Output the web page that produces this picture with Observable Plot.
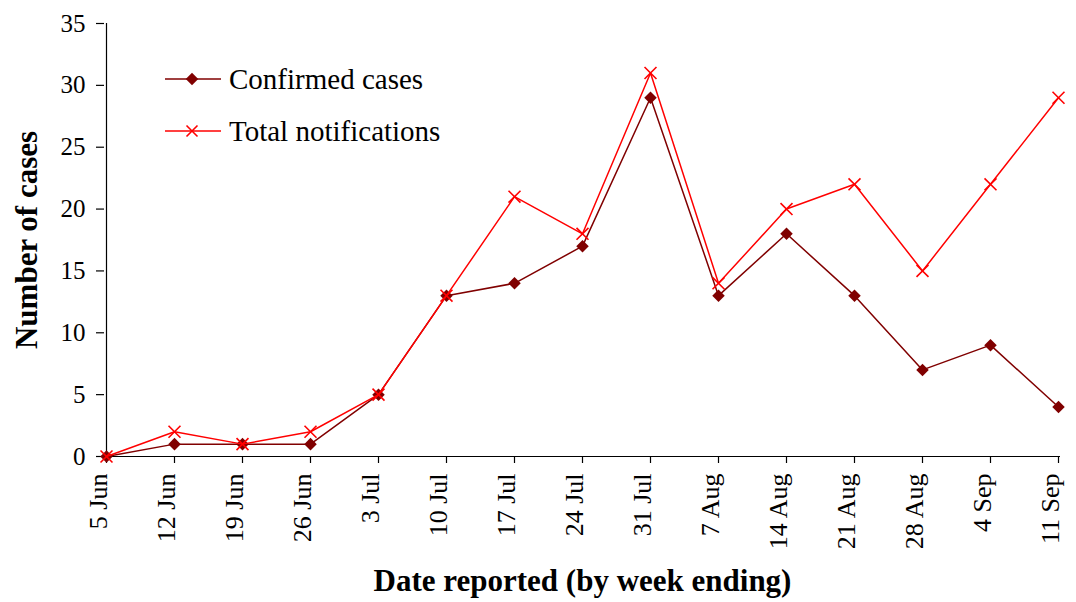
<!DOCTYPE html>
<html><head><meta charset="utf-8">
<script src="https://cdn.jsdelivr.net/npm/d3@7"></script>
<script src="https://cdn.jsdelivr.net/npm/@observablehq/plot@0.6"></script>
<style>
body{margin:0;background:#fff}
#wrap{position:relative;width:1076px;height:602px;overflow:hidden}
.leg{position:absolute;left:165px;height:34px;display:flex;align-items:center;font-family:"Liberation Serif","Times New Roman",serif;font-size:29px;color:#000;white-space:nowrap}
.leg svg{margin-right:8px}
</style>
</head><body><div id="wrap"></div>
<script>
const weeks = ["5 Jun","12 Jun","19 Jun","26 Jun","3 Jul","10 Jul","17 Jul","24 Jul","31 Jul","7 Aug","14 Aug","21 Aug","28 Aug","4 Sep","11 Sep"];
const confirmed = [0,1,1,1,5,13,14,17,29,13,18,13,7,9,4];
const totalNotifications = [0,2,1,2,5,13,21,18,31,14,20,22,15,22,29];
const yTicks = [0,5,10,15,20,25,30,35];
const seriesNames = ["Confirmed cases","Total notifications"];
const seriesColors = ["#800000","#ff0000"];
const xTitle = "Date reported (by week ending)";
const yTitle = "Number of cases";

const conf = weeks.map((w,i)=>({week:w,value:confirmed[i]}));
const tot = weeks.map((w,i)=>({week:w,value:totalNotifications[i]}));
const font = "'Liberation Serif','Times New Roman',serif";

const chart = Plot.plot({
  width:1076, height:602,
  marginLeft:104, marginRight:16, marginTop:23, marginBottom:146,
  style:{fontFamily:font, background:"white", color:"black", overflow:"visible"},
  x:{type:"point", domain:weeks, padding:0},
  y:{domain:[0,35]},
  marks:[
    Plot.axisY({ticks:yTicks, tickSize:8, tickPadding:11, fontSize:25, label:null, strokeWidth:1.2}),
    Plot.axisX({ticks:weeks, tickSize:7, tickFormat:()=>"", label:null, strokeWidth:1.2}),
    Plot.text(weeks, {x:d=>d, frameAnchor:"bottom", dy:17, rotate:-90, textAnchor:"end", fontSize:26}),
    Plot.ruleY([0], {strokeWidth:1.2}),
    Plot.ruleX([weeks[0]], {strokeWidth:1.2}),
    Plot.line(conf, {x:"week", y:"value", stroke:seriesColors[0], strokeWidth:1.5}),
    Plot.dot(conf, {x:"week", y:"value", symbol:"square", rotate:45, r:5, fill:seriesColors[0], stroke:"none"}),
    Plot.line(tot, {x:"week", y:"value", stroke:seriesColors[1], strokeWidth:1.5}),
    Plot.dot(tot, {x:"week", y:"value", symbol:"times", r:5.5, stroke:seriesColors[1], strokeWidth:1.6}),
    Plot.text([yTitle], {frameAnchor:"left", textAnchor:"middle", dx:-77, rotate:-90, fontSize:31, fontWeight:"bold"}),
    Plot.text([xTitle], {frameAnchor:"bottom", textAnchor:"middle", dy:134, fontSize:31, fontWeight:"bold"})
  ]
});
const wrap = document.getElementById("wrap");
wrap.appendChild(chart);

// legend
const swatches = [
  `<svg width="56" height="20"><line x1="0" x2="56" y1="10" y2="10" stroke="${seriesColors[0]}" stroke-width="1.5"/><rect x="-4.4" y="-4.4" width="8.8" height="8.8" fill="${seriesColors[0]}" transform="translate(27,10) rotate(45)"/></svg>`,
  `<svg width="56" height="20"><line x1="0" x2="56" y1="10" y2="10" stroke="${seriesColors[1]}" stroke-width="1.5"/><path d="M-5.5,-5.5L5.5,5.5M-5.5,5.5L5.5,-5.5" stroke="${seriesColors[1]}" stroke-width="1.6" transform="translate(27,10)"/></svg>`
];
seriesNames.forEach((name,i)=>{
  const d = document.createElement("div");
  d.className = "leg";
  d.style.top = (62 + 52*i) + "px";
  d.innerHTML = swatches[i] + `<span>${name}</span>`;
  wrap.appendChild(d);
});
</script>
</body></html>
